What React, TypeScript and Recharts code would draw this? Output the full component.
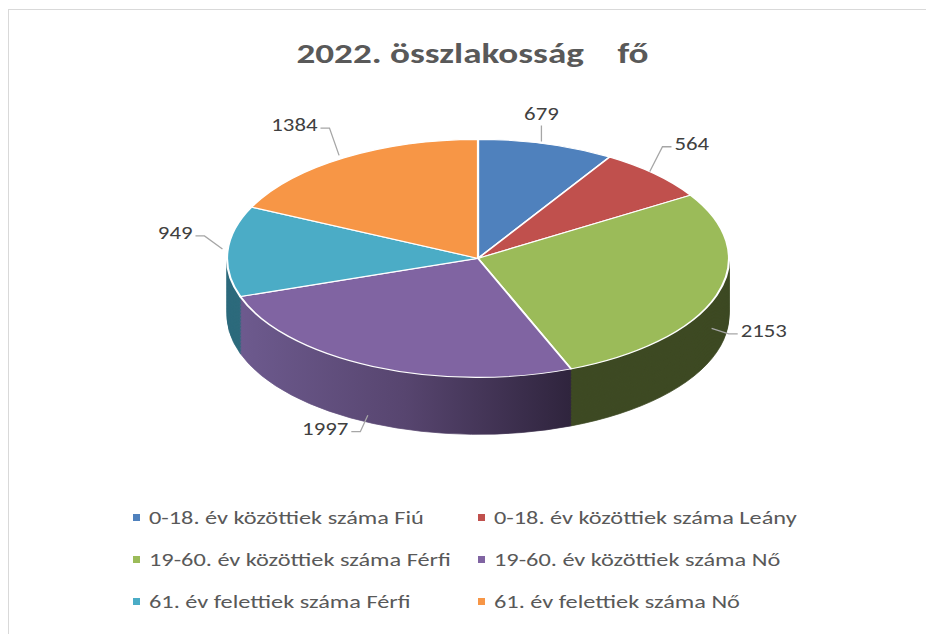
import { Cell, Pie, PieChart } from "recharts";

const CATEGORIES = [
  "0-18. év közöttiek száma Fiú",
  "0-18. év közöttiek száma Leány",
  "19-60. év közöttiek száma Férfi",
  "19-60. év közöttiek száma Nő",
  "61. év felettiek száma Férfi",
  "61. év felettiek száma Nő",
];
const VALUES = [679, 564, 2153, 1997, 949, 1384];
const COLORS = ["#4f81bd", "#c0504d", "#9bbb59", "#8064a2", "#4bacc6", "#f79646"];
const SIDE_COLORS = ["#2c4d74", "#7a2f2d", "#3e4a23", "url(#sideNo)", "#2d6b7c", "#a65c22"];
const TITLE = "2022. összlakosság    fő";

const DATA = CATEGORIES.map((name, i) => ({ name, value: VALUES[i] }));

// fake 3D: the pie is drawn round and squashed vertically
const CX = 473;
const CY = 256;
const RX = 251;
const RY = 119;
const DEPTH = 57;
const K = RY / RX;
const LAYERS = 40;
const FONT = "Carlito, Lato, sans-serif";
const STRETCH = 1.28; // the source text is wider than Lato

function renderLabel(props: any) {
  const { midAngle, value } = props;
  const rad = (midAngle * Math.PI) / 180;
  const c = Math.cos(rad);
  const s = Math.sin(rad);
  const ax = CX + RX * c;
  const ay = CY - RY * s + (s < 0 ? DEPTH * Math.min(0.9, -2 * s) : 0);
  const side = c > 0.35 ? 1 : c < -0.35 ? -1 : 0;
  let pts: string;
  let tx: number;
  let ty: number;
  let anchor: "start" | "end" | "middle";
  if (side === 0) {
    pts = `${ax},${ay} ${ax},${ay - 16}`;
    tx = ax;
    ty = ay - 28;
    anchor = "middle";
  } else {
    const ex = ax + 18 * c;
    const ey = ay - 18 * s - (s >= 0 ? 12 : 0);
    const hx = ex + side * 9;
    pts = `${ax},${ay} ${ex},${ey} ${hx},${ey}`;
    tx = hx + side * 3;
    ty = ey - 3;
    anchor = side > 0 ? "start" : "end";
  }
  return (
    <g transform={`scale(1 ${1 / K})`}>
      <polyline points={pts} fill="none" stroke="#a6a6a6" strokeWidth={1.3} />
      <text
        x={0}
        y={0}
        transform={`translate(${tx} ${ty}) scale(1.2 1)`}
        textAnchor={anchor}
        dominantBaseline="central"
        fill="#404040"
        fontSize={19}
        fontFamily={FONT}
      >
        {value}
      </text>
    </g>
  );
}

export default function App() {
  const layers = Array.from({ length: LAYERS }, (_, i) => ((LAYERS - i) * DEPTH) / LAYERS / K);
  return (
    <div
      style={{
        position: "absolute",
        left: 0,
        top: 0,
        width: 926,
        height: 634,
        overflow: "hidden",
        background: "#fff",
      }}
    >
      <div
        style={{
          position: "absolute",
          left: 8,
          top: 9,
          width: 1000,
          height: 1000,
          border: "1px solid #d9d9d9",
        }}
      />
      <div
        style={{
          position: "absolute",
          left: 10,
          top: 35,
          width: 926,
          textAlign: "center",
          fontFamily: FONT,
          fontWeight: 700,
          fontSize: 29,
          color: "#595959",
          whiteSpace: "pre",
        }}
      >
        <span style={{ display: "inline-block", transform: `scaleX(${STRETCH})` }}>{TITLE}</span>
      </div>
      <div
        style={{
          position: "absolute",
          left: 0,
          top: 0,
          width: 926,
          height: 634 / K,
          transform: `scaleY(${K})`,
          transformOrigin: "0 0",
        }}
      >
        <PieChart width={926} height={634 / K}>
          <defs>
            <linearGradient id="sideNo" x1="0" y1="0" x2="1" y2="0">
              <stop offset="0%" stopColor="#6d5a8e" />
              <stop offset="50%" stopColor="#57456f" />
              <stop offset="100%" stopColor="#2f243d" />
            </linearGradient>
          </defs>
          {layers.map((off, li) => (
            <Pie
              key={li}
              data={DATA}
              dataKey="value"
              cx={CX}
              cy={CY / K + off}
              outerRadius={RX}
              startAngle={90}
              endAngle={-270}
              isAnimationActive={false}
              label={false}
              labelLine={false}
            >
              {DATA.map((d, i) => (
                <Cell key={d.name} fill={SIDE_COLORS[i]} stroke={SIDE_COLORS[i]} strokeWidth={1} />
              ))}
            </Pie>
          ))}
          <Pie
            data={DATA}
            dataKey="value"
            cx={CX}
            cy={CY / K}
            outerRadius={RX}
            startAngle={90}
            endAngle={-270}
            isAnimationActive={false}
            label={renderLabel}
            labelLine={false}
          >
            {DATA.map((d, i) => (
              <Cell key={d.name} fill={COLORS[i]} stroke="#ffffff" strokeWidth={2.2} />
            ))}
          </Pie>
        </PieChart>
      </div>
      {CATEGORIES.map((name, i) => (
        <div
          key={name}
          style={{
            position: "absolute",
            left: i % 2 === 0 ? 133 : 478,
            top: 517 + Math.floor(i / 2) * 42 - 12,
            height: 24,
            display: "flex",
            alignItems: "center",
            fontFamily: FONT,
            fontSize: 19,
            color: "#595959",
            whiteSpace: "nowrap",
          }}
        >
          <span
            style={{
              display: "inline-block",
              width: 7,
              height: 7,
              background: COLORS[i],
              marginRight: 9,
            }}
          />
          <span
            style={{
              display: "inline-block",
              transform: `scaleX(${STRETCH})`,
              transformOrigin: "0 50%",
            }}
          >
            {name}
          </span>
        </div>
      ))}
    </div>
  );
}
